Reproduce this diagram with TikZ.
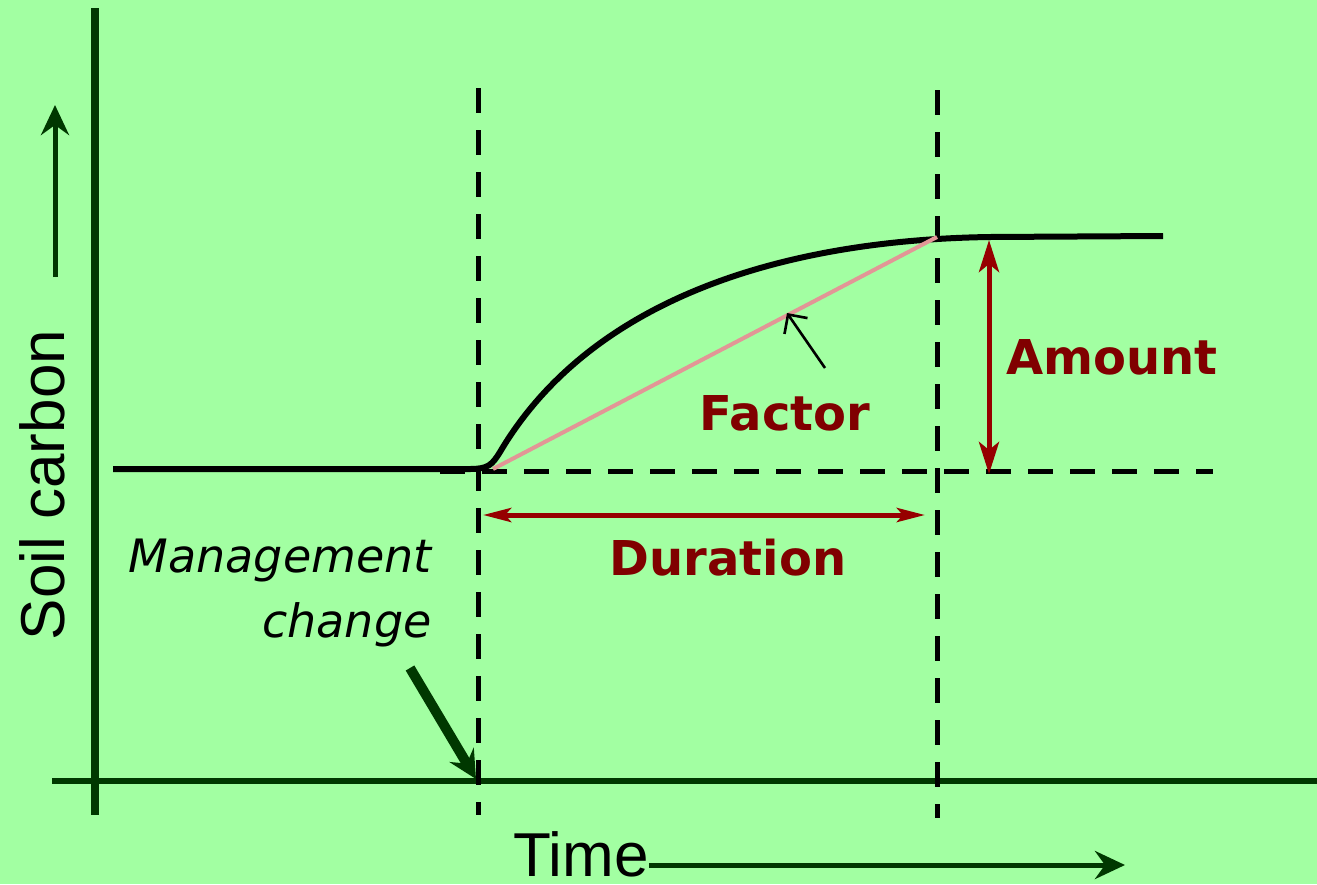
\documentclass[tikz,border=0pt]{standalone}
\usepackage{fontspec}
\setmainfont{DejaVu Sans}
\newfontfamily\axisfont{Liberation Sans}
\usetikzlibrary{arrows.meta,positioning}
\definecolor{bggreen}{RGB}{162,255,162}
\definecolor{axisgreen}{RGB}{0,56,0}
\definecolor{labelred}{RGB}{128,0,0}
\definecolor{arrowred}{RGB}{150,0,0}
\definecolor{trendpink}{RGB}{226,150,150}

\begin{document}
\begin{tikzpicture}[
  x=0.5pt, y=-0.5pt,
  axisline/.style={draw=axisgreen, line width=3pt},
  axisarrow/.style={-{Stealth[length=15pt,width=14pt,inset=5pt]}, draw=axisgreen, fill=axisgreen, line width=2.5pt},
  axislabel/.style={font=\axisfont\fontsize{31}{36}\selectfont, inner sep=0pt},
  guide/.style={draw=black, line width=2.5pt, dash pattern=on 12.5pt off 8.5pt},
  curve/.style={draw=black, line width=3pt},
  measure/.style={{Stealth[length=16pt,width=10pt,inset=4pt]}-{Stealth[length=16pt,width=10pt,inset=4pt]}, draw=arrowred, fill=arrowred, line width=2.5pt},
  tag/.style={font=\bfseries\fontsize{24}{28}\selectfont, text=labelred, inner sep=0pt},
  pointer/.style={-{Straight Barb[length=7pt,width=14pt]}, draw=black, line width=1.3pt}
]

\fill[bggreen] (0,0) rectangle (1317,884);
\useasboundingbox (0,0) rectangle (1317,884);

% axes
\coordinate (ytop) at (95,8);
\coordinate (ybottom) at (95,815);
\coordinate (xleft) at (52,781);
\coordinate (xright) at (1317,781);
\draw[axisline, line width=4pt] (ytop) -- (ybottom);
\draw[axisline] (xleft) -- (xright);

% axis labels
\node[axislabel, rotate=90] (soil) at (42,485) {Soil carbon};
\coordinate (soilfoot) at (55,277);
\coordinate (soiltip) at (55,105);
\draw[axisarrow] (soilfoot) -- (soiltip);

\node[axislabel, anchor=base west] (time) at (513,876) {Time};
\coordinate (timetip) at (1125,865);
\draw[axisarrow] (time.east |- timetip) -- (timetip);

% guide lines
\coordinate (starttop) at (478,88);
\coordinate (startfoot) at (478,815);
\coordinate (endtop) at (937,90);
\coordinate (endfoot) at (937,818);
\coordinate (baseleft) at (440,471);
\coordinate (baseright) at (1213,471);
\draw[guide] (starttop) -- (startfoot);
\draw[guide] (endtop) -- (endfoot);
\draw[guide] (baseleft) -- (baseright);

% soil carbon response
\coordinate (before) at (113,469);
\coordinate (kink) at (500,452);
\coordinate (level) at (990,237);
\coordinate (after) at (1163,236);
\draw[curve] (before) -- (470,469) .. controls (488,469) and (492,465) .. (kink)
  .. controls (590,300) and (780,240) .. (level) -- (after);

% factor slope
\coordinate (slopestart) at (493,469);
\coordinate (slopeend) at (937,237);
\draw[trendpink, line width=2pt] (slopestart) -- (slopeend);

\node[tag] (factor) at (785,413) {Factor};
\coordinate (pointfoot) at (825,368);
\coordinate (pointtip) at (787,313);
\draw[pointer] (pointfoot) -- (pointtip);

% amount and duration
\coordinate (amounttop) at (989,240);
\coordinate (amountfoot) at (989,474);
\draw[measure] (amounttop) -- (amountfoot);
\node[tag] (amount) at (1112,357) {Amount};

\coordinate (durleft) at (483,515);
\coordinate (durright) at (925,515);
\draw[measure, {Stealth[length=14pt,width=7pt,inset=3pt]}-{Stealth[length=14pt,width=7pt,inset=3pt]}] (durleft) -- (durright);
\node[tag] (duration) at (728,558) {Duration};

% management change
\node[font=\itshape\fontsize{23}{32.5}\selectfont, align=right, anchor=north east, inner sep=0pt] (mgmt) at (432,539) {Management\\change};
\coordinate (mgmtfoot) at (410,668);
\coordinate (change) at (476,779);
\draw[axisarrow, line width=5pt, -{Stealth[length=14pt,width=14pt,inset=5pt]}] (mgmtfoot) -- (change);

\end{tikzpicture}
\end{document}
